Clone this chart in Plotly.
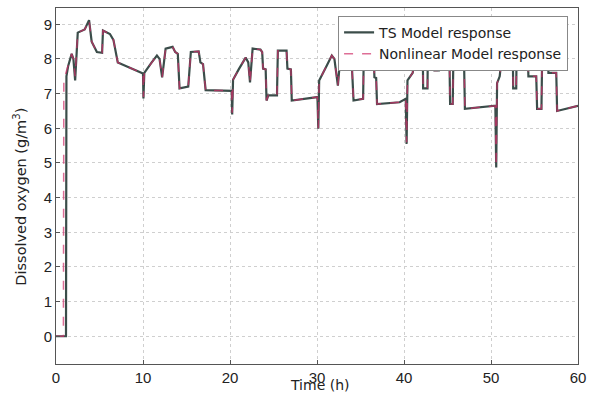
import plotly.graph_objects as go

# TS model response (time in h, dissolved oxygen in g/m3)
time_ts = [0, 1.15, 1.2, 1.4, 1.8, 2.0, 2.2, 2.5, 3.3, 3.8, 4.1, 4.7, 5.3, 5.4, 6.2, 6.6, 7.1, 10.0, 10.05, 10.15,
           11.0, 11.6, 11.9, 12.2, 12.6, 13.4, 13.7, 14.0, 14.2, 15.2, 15.5, 16.4, 16.6, 16.9, 17.2, 20.2,
           20.25, 20.35, 21.0, 21.8, 22.1, 22.3, 22.6, 23.5, 23.7, 23.8, 24.1, 24.2, 24.4, 25.4, 25.5, 26.5, 26.6, 27.0, 27.1, 30.05,
           30.15, 30.25, 31.1, 31.7, 32.0, 32.4, 32.8, 33.5, 33.6, 34.0, 34.2, 35.3, 35.4, 36.5, 36.6, 36.8, 36.9, 39.5, 40.2,
           40.3, 40.4, 41.0, 41.5, 42.15, 42.2, 42.7, 42.75, 43.4, 43.5, 44.0, 44.05, 45.2, 45.3, 45.6, 45.7, 46.3, 46.4, 46.9, 47.0, 50.5,
           50.6, 50.7, 51.0, 51.4, 52.5, 52.55, 52.9, 52.95, 54.2, 54.3, 55.2, 55.3, 55.8, 55.9, 56.5, 56.6, 57.5, 57.6, 60.0]
do_ts = [0, 0, 7.5, 7.8, 8.15, 8.0, 7.38, 8.76, 8.85, 9.12, 8.5, 8.2, 8.18, 8.82, 8.72, 8.55, 7.9, 7.58, 6.86, 7.6,
         7.9, 8.1, 8.0, 7.47, 8.3, 8.35, 8.2, 8.15, 7.15, 7.2, 8.2, 8.22, 7.9, 7.85, 7.1, 7.08,
         6.4, 7.4, 7.7, 8.04, 7.9, 7.32, 8.3, 8.27, 8.2, 7.72, 7.7, 6.8, 6.95, 6.95, 8.24, 8.24, 7.72, 7.7, 6.8, 6.9,
         5.99, 7.38, 7.8, 8.1, 8.0, 7.23, 8.39, 8.35, 7.9, 7.85, 6.8, 6.85, 8.45, 8.45, 7.47, 7.45, 6.7, 6.75, 6.85,
         5.55, 7.38, 7.6, 8.45, 8.45, 7.15, 7.15, 8.45, 8.45, 7.67, 7.67, 8.45, 8.45, 6.7, 6.7, 8.45, 8.45, 7.95, 7.95, 6.56, 6.65,
         4.87, 7.3, 7.5, 8.45, 8.45, 7.15, 7.15, 8.45, 8.45, 7.5, 7.5, 6.56, 6.56, 8.45, 8.45, 7.6, 7.6, 6.5, 6.65]

# Nonlinear model response
time_nl = [0, 0.85, 0.9, 1.4, 1.8, 2.0, 2.2, 2.5, 3.3, 3.8, 4.1, 4.7, 5.3, 5.4, 6.2, 6.6, 7.1, 10.0, 10.05, 10.15,
           11.0, 11.6, 11.9, 12.2, 12.6, 13.4, 13.7, 14.0, 14.2, 15.2, 15.5, 16.4, 16.6, 16.9, 17.2, 20.2,
           20.25, 20.35, 21.0, 21.8, 22.1, 22.3, 22.6, 23.5, 23.7, 23.8, 24.1, 24.2, 24.4, 25.4, 25.5, 26.5, 26.6, 27.0, 27.1, 30.05,
           30.15, 30.25, 31.1, 31.7, 32.0, 32.4, 32.8, 33.5, 33.6, 34.0, 34.2, 35.3, 35.4, 36.5, 36.6, 36.8, 36.9, 39.5, 40.2,
           40.3, 40.4, 41.0, 41.5, 42.15, 42.2, 42.7, 42.75, 43.4, 43.5, 44.0, 44.05, 45.2, 45.3, 45.6, 45.7, 46.3, 46.4, 46.9, 47.0, 50.5,
           50.6, 50.7, 51.0, 51.4, 52.5, 52.55, 52.9, 52.95, 54.2, 54.3, 55.2, 55.3, 55.8, 55.9, 56.5, 56.6, 57.5, 57.6, 60.0]
do_nl = [0, 0, 7.4, 7.8, 8.15, 8.0, 7.5, 8.76, 8.85, 9.12, 8.5, 8.2, 8.18, 8.82, 8.72, 8.55, 7.9, 7.58, 6.9, 7.6,
         7.9, 8.1, 8.0, 7.47, 8.3, 8.35, 8.2, 8.15, 7.15, 7.2, 8.2, 8.22, 7.9, 7.85, 7.1, 7.08,
         6.45, 7.4, 7.7, 8.04, 7.9, 7.32, 8.3, 8.27, 8.2, 7.72, 7.7, 6.8, 6.95, 6.95, 8.24, 8.24, 7.72, 7.7, 6.8, 6.9,
         6.0, 7.38, 7.8, 8.1, 8.0, 7.23, 8.39, 8.35, 7.9, 7.85, 6.8, 6.85, 8.45, 8.45, 7.47, 7.45, 6.7, 6.75, 6.85,
         5.6, 7.38, 7.6, 8.45, 8.45, 7.15, 7.15, 8.45, 8.45, 7.67, 7.67, 8.45, 8.45, 6.7, 6.7, 8.45, 8.45, 7.95, 7.95, 6.56, 6.65,
         4.9, 7.3, 7.5, 8.45, 8.45, 7.15, 7.15, 8.45, 8.45, 7.5, 7.5, 6.56, 6.56, 8.45, 8.45, 7.6, 7.6, 6.5, 6.65]

x_ticks = [0, 10, 20, 30, 40, 50, 60]
y_ticks = [0, 1, 2, 3, 4, 5, 6, 7, 8, 9]

FONT = "Liberation Sans, Arial, sans-serif"
WIDE = "DejaVu Sans, sans-serif"

fig = go.Figure()
fig.add_trace(go.Scatter(x=time_ts, y=do_ts, mode="lines", name="TS Model response",
                         line=dict(color="#3b4d4a", width=2.2)))
fig.add_trace(go.Scatter(x=time_nl, y=do_nl, mode="lines", name="Nonlinear Model response",
                         line=dict(color="#d0306a", width=1.5, dash="dash"), opacity=0.7))

axis_common = dict(showline=True, mirror=True, linecolor="#555555", linewidth=1,
                   showgrid=True, gridcolor="#cfcfcf", griddash="dot", gridwidth=1,
                   zeroline=False, ticks="inside", ticklen=4, tickcolor="#555555",
                   tickfont=dict(family=FONT, size=15, color="#222222"))

fig.update_xaxes(range=[0, 60], tickvals=x_ticks, **axis_common)
fig.update_yaxes(range=[-0.8, 9.47], tickvals=y_ticks, **axis_common)

fig.add_annotation(text="Time (h)", xref="paper", yref="paper", x=0.506, y=-0.058,
                   showarrow=False, font=dict(family=WIDE, size=14, color="#222222"),
                   xanchor="center", yanchor="middle")
fig.add_annotation(text="Dissolved oxygen (g/m<sup>3</sup>)", xref="paper", yref="paper",
                   x=-0.069, y=0.47, textangle=-90, showarrow=False,
                   font=dict(family=WIDE, size=14.5, color="#222222"),
                   xanchor="center", yanchor="middle")

fig.update_layout(
    width=606, height=396,
    margin=dict(l=56, r=28, t=8, b=32),
    paper_bgcolor="white", plot_bgcolor="white",
    showlegend=True,
    legend=dict(x=0.981, y=0.978, xanchor="right", yanchor="top",
                bgcolor="white", bordercolor="#888888", borderwidth=1,
                font=dict(family=WIDE, size=14, color="#222222"),
                tracegroupgap=0, itemwidth=30),
)

fig.write_html("out.html")
